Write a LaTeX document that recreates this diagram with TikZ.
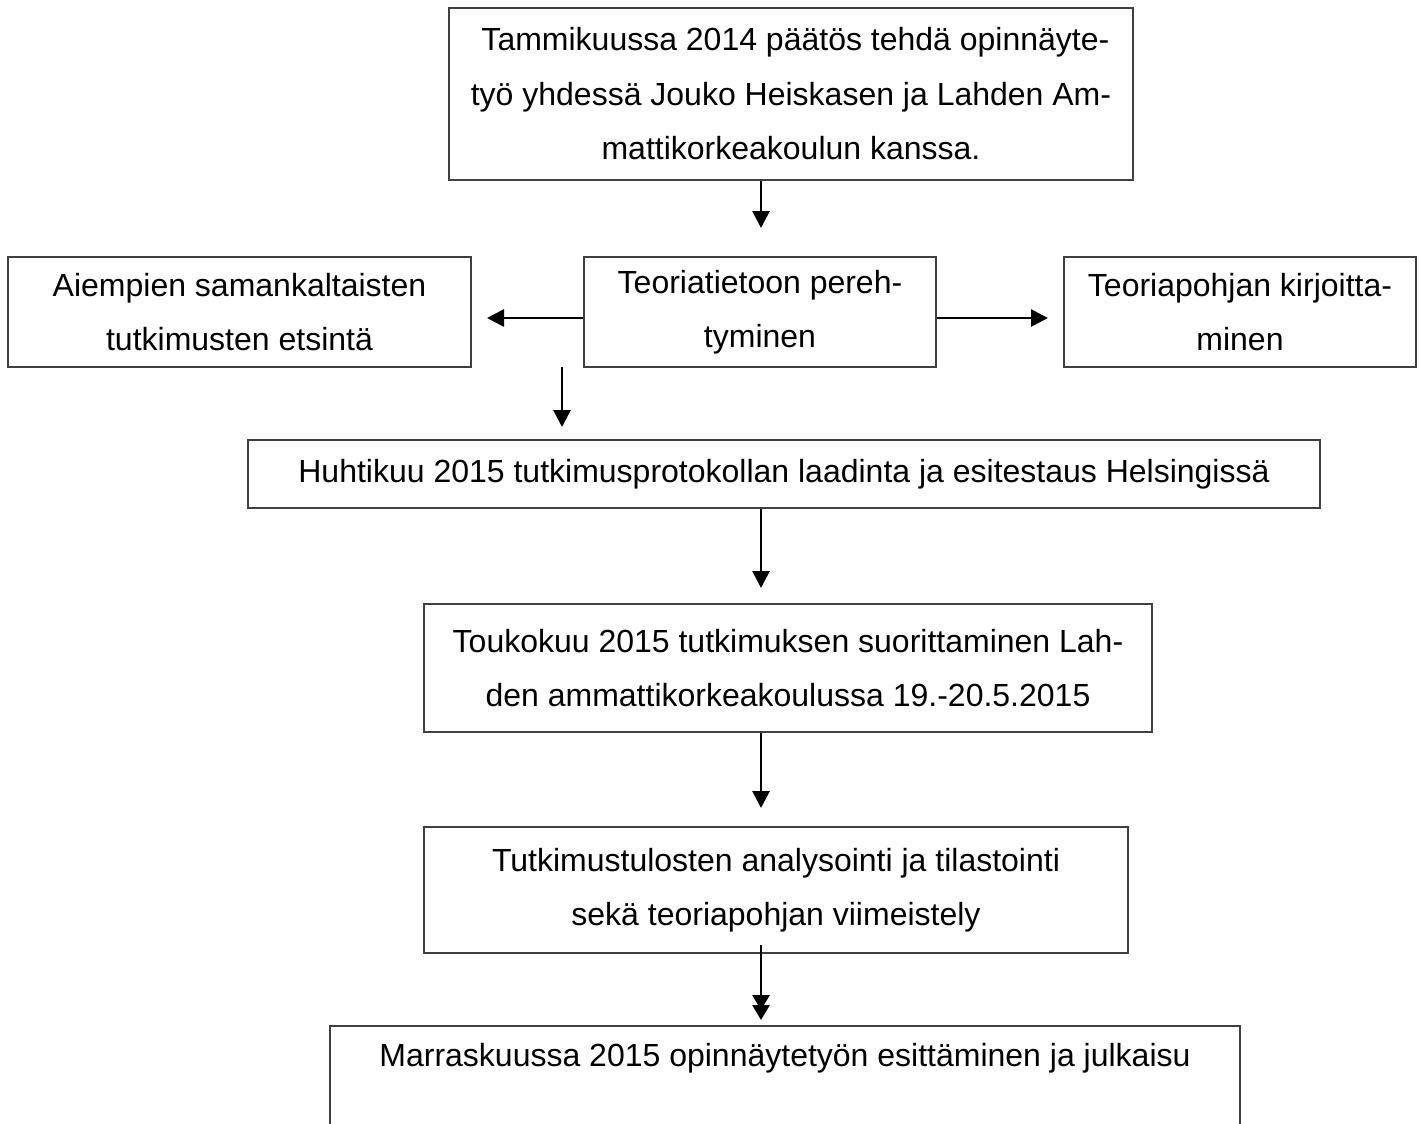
\documentclass[tikz,border=0pt]{standalone}
\usepackage{fontspec}
\setmainfont{Liberation Sans}
\usetikzlibrary{arrows.meta}
\begin{document}
\begin{tikzpicture}[x=0.5pt,y=-0.5pt,
  bx/.style={draw=black!75, line width=1pt, inner sep=0pt, align=center,
    font=\fontsize{16pt}{27.25pt}\selectfont},
  txt/.style={inner sep=0pt, align=center, font=\fontsize{16pt}{27.25pt}\selectfont},
  arr/.style={line width=1.4pt, -{Triangle[length=8.5pt,width=8.5pt]}},
  darr/.style={line width=1.4pt, -{Triangle[length=7.5pt,width=8.5pt]}}]
\useasboundingbox (0,0) rectangle (1421,1124);
\node[bx, minimum width=342pt, minimum height=86pt] (b1) at (791,94)
  {\hphantom{ }Tammikuussa 2014 päätös tehdä opinnäyte-\\työ yhdessä Jouko Heiskasen ja Lahden Am-\\mattikorkeakoulun kanssa.};
\node[bx, minimum width=231.5pt, minimum height=55pt] (b2) at (239.5,312)
  {Aiempien samankaltaisten\\tutkimusten etsintä};
\node[bx, minimum width=176pt, minimum height=55pt] (b3) at (760,312)
  {Teoriatietoon pereh-\\tyminen};
\node[bx, minimum width=176pt, minimum height=55pt] (b4) at (1240,312)
  {Teoriapohjan kirjoitta-\\minen};
\node[bx, minimum width=536pt, minimum height=34pt] (b5) at (784,474)
  {Huhtikuu 2015 tutkimusprotokollan laadinta ja esitestaus Helsingissä};
\node[bx, minimum width=364pt, minimum height=64pt] (b6) at (788,668)
  {Toukokuu 2015 tutkimuksen suorittaminen Lah-\\den ammattikorkeakoulussa 19.-20.5.2015};
\node[bx, minimum width=352pt, minimum height=63pt] (b7) at (776,890)
  {Tutkimustulosten analysointi ja tilastointi\\sekä teoriapohjan viimeistely};
\node[txt] (b8) at (785,1058) {Marraskuussa 2015 opinnäytetyön esittäminen ja julkaisu};
\draw[draw=black!75, line width=1pt] (330,1130) -- (330,1026) -- (1240,1026) -- (1240,1130);
% arrow endpoints
\coordinate (e1) at (761,228);
\coordinate (e2) at (487,318);
\coordinate (e3) at (1048,318);
\coordinate (s4) at (562,367);
\coordinate (e4) at (562,427);
\coordinate (e5) at (761,588);
\coordinate (e6) at (761,808);
\coordinate (s7) at (761,945);
\coordinate (m7) at (761,1010);
\coordinate (e7) at (761,1020);
\draw[arr] (b1.south -| e1) -- (e1);
\draw[arr] (b3.west |- e2) -- (e2);
\draw[arr] (b3.east |- e3) -- (e3);
\draw[arr] (s4) -- (e4);
\draw[arr] (b5.south -| e5) -- (e5);
\draw[arr] (b6.south -| e6) -- (e6);
\draw[darr] (s7) -- (m7);
\draw[darr] (s7) -- (e7);
\end{tikzpicture}
\end{document}
